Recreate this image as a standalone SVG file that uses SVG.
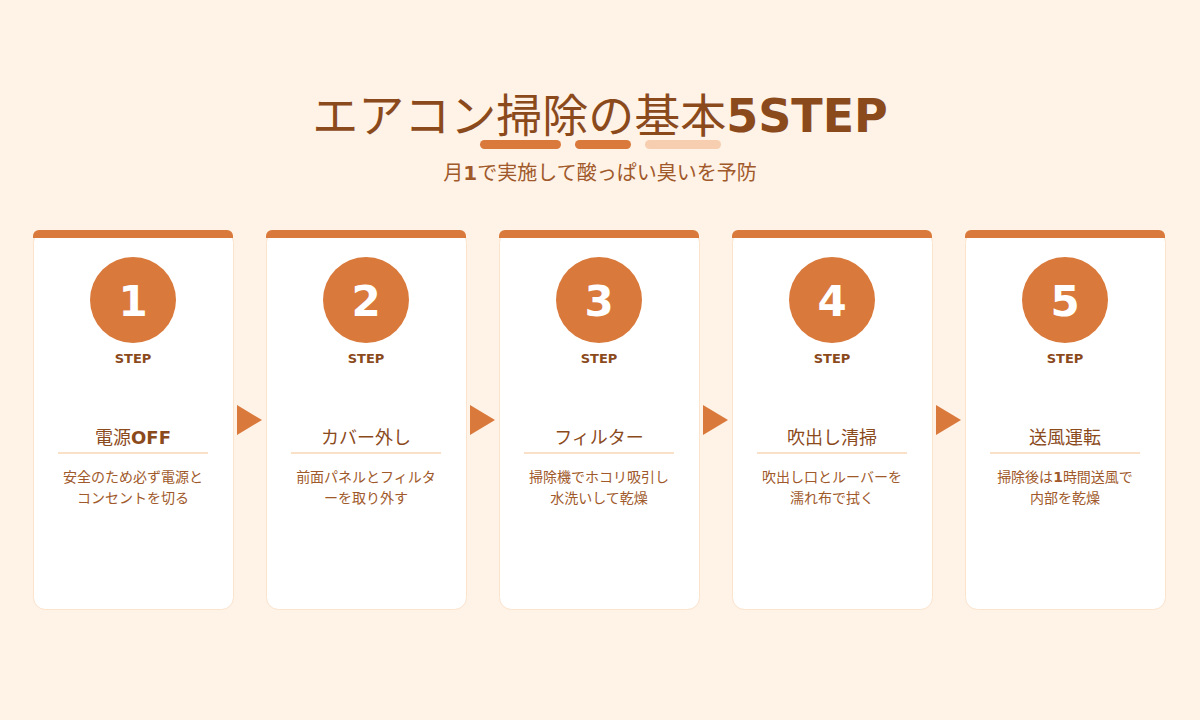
<svg xmlns="http://www.w3.org/2000/svg" width="1200" height="720" viewBox="0 0 1200 720">
<style>
text{font-family:"DejaVu Sans","Noto Sans CJK JP",sans-serif;text-anchor:middle}
.card{fill:#fff;stroke:#fbe3cc;stroke-width:1}
.bar{fill:#d9793b}
.circ{fill:#d9793b}
.num{fill:#fff;font-size:42px;font-weight:bold}
.step{fill:#8b4a1c;font-size:13px;font-weight:bold}
.ttl{fill:#8b4a1c;font-size:18px}
.desc{fill:#a0592a;font-size:14px}
.sep{stroke:#fbe0c8;stroke-width:2}
.arr{fill:#d9793b}
</style>
<rect width="1200" height="720" fill="#fff2e6"/>
<text x="600" y="132" font-size="46" fill="#8b4a1c">エアコン掃除の基本<tspan font-weight="bold">5STEP</tspan></text>
<rect x="480" y="140" width="81" height="9" rx="4.5" fill="#d9793b"/>
<rect x="575" y="140" width="56" height="9" rx="4.5" fill="#d9793b"/>
<rect x="645" y="140" width="76" height="9" rx="4.5" fill="#f7cfb0"/>
<text x="600" y="180" font-size="20" fill="#a0592a">月<tspan font-weight="bold">1</tspan>で実施して酸っぱい臭いを予防</text>
<g id="connectors">
<polygon class="arr" points="237,405 262,420 237,435"/>
<polygon class="arr" points="470,405 495,420 470,435"/>
<polygon class="arr" points="703,405 728,420 703,435"/>
<polygon class="arr" points="936,405 961,420 936,435"/>
</g>
<g id="step1"><rect class="card" x="33.5" y="230.5" width="200" height="379" rx="12"/><path class="bar" d="M33 238V236a6 6 0 0 1 6-6h188a6 6 0 0 1 6 6v2z"/><circle class="circ" cx="133" cy="300" r="43"/><text class="num" x="133" y="316">1</text><text class="step" x="133" y="363">STEP</text><text class="ttl" x="133" y="444">電源<tspan font-weight="bold">OFF</tspan></text><line class="sep" x1="58" y1="453" x2="208" y2="453"/><text class="desc" x="133" y="482">安全のため必ず電源と</text><text class="desc" x="133" y="503">コンセントを切る</text></g>
<g id="step2"><rect class="card" x="266.5" y="230.5" width="200" height="379" rx="12"/><path class="bar" d="M266 238V236a6 6 0 0 1 6-6h188a6 6 0 0 1 6 6v2z"/><circle class="circ" cx="366" cy="300" r="43"/><text class="num" x="366" y="316">2</text><text class="step" x="366" y="363">STEP</text><text class="ttl" x="366" y="444">カバー外し</text><line class="sep" x1="291" y1="453" x2="441" y2="453"/><text class="desc" x="366" y="482">前面パネルとフィルタ</text><text class="desc" x="366" y="503">ーを取り外す</text></g>
<g id="step3"><rect class="card" x="499.5" y="230.5" width="200" height="379" rx="12"/><path class="bar" d="M499 238V236a6 6 0 0 1 6-6h188a6 6 0 0 1 6 6v2z"/><circle class="circ" cx="599" cy="300" r="43"/><text class="num" x="599" y="316">3</text><text class="step" x="599" y="363">STEP</text><text class="ttl" x="599" y="444">フィルター</text><line class="sep" x1="524" y1="453" x2="674" y2="453"/><text class="desc" x="599" y="482">掃除機でホコリ吸引し</text><text class="desc" x="599" y="503">水洗いして乾燥</text></g>
<g id="step4"><rect class="card" x="732.5" y="230.5" width="200" height="379" rx="12"/><path class="bar" d="M732 238V236a6 6 0 0 1 6-6h188a6 6 0 0 1 6 6v2z"/><circle class="circ" cx="832" cy="300" r="43"/><text class="num" x="832" y="316">4</text><text class="step" x="832" y="363">STEP</text><text class="ttl" x="832" y="444">吹出し清掃</text><line class="sep" x1="757" y1="453" x2="907" y2="453"/><text class="desc" x="832" y="482">吹出し口とルーバーを</text><text class="desc" x="832" y="503">濡れ布で拭く</text></g>
<g id="step5"><rect class="card" x="965.5" y="230.5" width="200" height="379" rx="12"/><path class="bar" d="M965 238V236a6 6 0 0 1 6-6h188a6 6 0 0 1 6 6v2z"/><circle class="circ" cx="1065" cy="300" r="43"/><text class="num" x="1065" y="316">5</text><text class="step" x="1065" y="363">STEP</text><text class="ttl" x="1065" y="444">送風運転</text><line class="sep" x1="990" y1="453" x2="1140" y2="453"/><text class="desc" x="1065" y="482">掃除後は<tspan font-weight="bold">1</tspan>時間送風で</text><text class="desc" x="1065" y="503">内部を乾燥</text></g>
</svg>
